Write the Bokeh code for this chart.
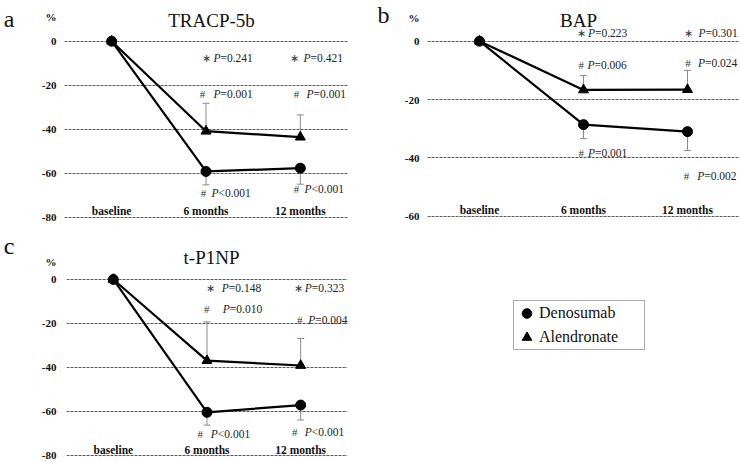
from bokeh.plotting import figure
from bokeh.models import (FactorRange, Range1d, FixedTicker, Label, Legend,
                          LegendItem, LinearAxis)
from bokeh.layouts import column, row
from bokeh.core.properties import value
from bokeh.embed import file_html
from bokeh.resources import INLINE

# ---------------- data ----------------
categories = ["baseline", "6 months", "12 months"]
followup = ["6 months", "12 months"]

# TRACP-5b (% change)
tracp_deno = [0, -59.2, -57.7]
tracp_alen = [0, -40.9, -43.6]
tracp_deno_err = [-65.3, -65.0]
tracp_alen_err = [-28.2, -33.5]
tracp_p_between = ["=0.241", "=0.421"]
tracp_p_alen = ["=0.001", "=0.001"]
tracp_p_deno = ["<0.001", "<0.001"]

# BAP (% change)
bap_deno = [0, -28.6, -31.0]
bap_alen = [0, -16.7, -16.6]
bap_deno_err = [-33.4, -37.5]
bap_alen_err = [-11.8, -10.0]
bap_p_between = ["=0.223", "=0.301"]
bap_p_alen = ["=0.006", "=0.024"]
bap_p_deno = ["=0.001", "=0.002"]

# t-P1NP (% change)
p1np_deno = [0, -60.4, -57.1]
p1np_alen = [0, -36.9, -39.1]
p1np_deno_err = [-66.2, -63.9]
p1np_alen_err = [-19.3, -26.8]
p1np_p_between = ["=0.148", "=0.323"]
p1np_p_alen = ["=0.010", "=0.004"]
p1np_p_deno = ["<0.001", "<0.001"]

ticks_a = [0, -20, -40, -60, -80]
ticks_b = [0, -20, -40, -60]
ticks_c = [0, -20, -40, -60, -80]

SERIF = "Liberation Serif"
GRAY = "#8a8a8a"
INK = "#111111"


def make_panel(w, h, ylo, yhi, bl, br, ticks, standoff, pct_tick,
               letter, letter_tick, letter_standoff,
               deno, alen, deno_err, alen_err,
               title, title_y, title_dx, cat_y):
    p = figure(width=w, height=h, x_range=FactorRange(*categories),
               y_range=Range1d(ylo, yhi), x_axis_location=None,
               toolbar_location=None, output_backend="svg",
               min_border_left=bl, min_border_right=br,
               min_border_top=0, min_border_bottom=0,
               outline_line_color=None, background_fill_color="white",
               border_fill_color="white")
    p.xgrid.visible = False
    p.ygrid.ticker = FixedTicker(ticks=ticks)
    p.ygrid.grid_line_color = "#5a5a5a"
    p.ygrid.grid_line_dash = "3 1"
    p.ygrid.grid_line_width = 1

    ax = p.yaxis[0]
    ax.ticker = FixedTicker(ticks=[pct_tick] + ticks)
    overrides = {t: str(t) for t in ticks}
    overrides[pct_tick] = "%"
    ax.major_label_overrides = overrides
    ax.axis_line_color = None
    ax.major_tick_line_color = None
    ax.minor_tick_line_color = None
    ax.major_tick_out = 0
    ax.major_tick_in = 0
    ax.major_label_standoff = standoff
    ax.major_label_text_font = SERIF
    ax.major_label_text_font_style = "bold"
    ax.major_label_text_font_size = "11px"
    ax.major_label_text_color = INK

    # panel letter as an outer axis label
    lax = LinearAxis(ticker=FixedTicker(ticks=[letter_tick]),
                     major_label_overrides={letter_tick: letter},
                     axis_line_color=None, major_tick_line_color=None,
                     minor_tick_line_color=None, major_tick_out=0,
                     major_tick_in=0, major_label_standoff=letter_standoff,
                     major_label_text_font=SERIF,
                     major_label_text_font_size="24px",
                     major_label_text_color=INK)
    p.add_layout(lax, "left")

    # error bars
    p.segment(x0=followup, y0=alen[1:], x1=followup, y1=alen_err,
              line_color=GRAY, line_width=1)
    p.segment(x0=followup, y0=deno[1:], x1=followup, y1=deno_err,
              line_color=GRAY, line_width=1)
    p.scatter(x=followup, y=alen_err, marker="dash", size=7,
              line_color=GRAY, line_width=1)
    p.scatter(x=followup, y=deno_err, marker="dash", size=7,
              line_color=GRAY, line_width=1)

    # series
    p.line(x=categories, y=alen, line_color="black", line_width=2.2)
    p.line(x=categories, y=deno, line_color="black", line_width=2.2)
    p.scatter(x=categories, y=alen, marker="triangle", size=10,
              fill_color="black", line_color="black")
    p.scatter(x=categories, y=deno, marker="circle", size=10,
              fill_color="black", line_color="black")

    # category labels
    p.text(x=categories, y=[cat_y] * 3, text=categories,
           text_font=value(SERIF), text_font_style="bold",
           text_font_size="11.5px", text_align="center",
           text_baseline="middle", text_color=INK)

    p.add_layout(Label(x=1.5, y=title_y, x_offset=title_dx, text=title,
                       text_font=SERIF, text_font_size="19px",
                       text_align="center", text_baseline="alphabetic",
                       text_color=INK))
    return p


def annotate(p, sym, texts, ys, sym_dx, p_dx):
    p.text(x=followup, y=ys, text=[sym] * len(followup), x_offset=sym_dx,
           text_font=value(SERIF), text_font_size="11px",
           text_align="center", text_baseline="middle", text_color="#333333")
    p.text(x=followup, y=ys, text=["P"] * len(followup), x_offset=p_dx,
           text_font=value(SERIF), text_font_size="11.5px",
           text_font_style="italic", text_align="left",
           text_baseline="middle", text_color="#222222")
    p.text(x=followup, y=ys, text=texts, x_offset=[d + 7 for d in p_dx],
           text_font=value(SERIF), text_font_size="11.5px",
           text_align="left", text_baseline="middle", text_color="#222222")


STAR = "\u2217"

# panel a  (0 at y=40.7px, 2.2 px per %)
pa = make_panel(370, 222, -82.4, 18.5, 58, 23, ticks_a, 8, 11,
                "a", 15, 24,
                tracp_deno, tracp_alen, tracp_deno_err, tracp_alen_err,
                "TRACP-5b", 9.4, 5.5, -77)
annotate(pa, STAR, tracp_p_between, [-7.5, -7.5], [0.5, -5.8], [7.5, 3.2])
annotate(pa, "#", tracp_p_alen, [-24.2, -24.2], [-3.5, -3.8], [7.5, 6.2])
annotate(pa, "#", tracp_p_deno, [-68.9, -67.4], [-2.5, -3.8], [5.5, 4.2])

# panel b  (0 at y=40.7px, 2.917 px per %)
pb = make_panel(370, 222, -62.15, 13.95, 57, 1, ticks_b, 8, 8,
                "b", 10, 12,
                bap_deno, bap_alen, bap_deno_err, bap_alen_err,
                "BAP", 7.1, -5, -57.7)
annotate(pb, STAR, bap_p_between, [2.9, 2.9], [-2.3, 0.5], [4.5, 11])
annotate(pb, "#", bap_p_alen, [-8.3, -7.5], [-2.3, 0.5], [4.0, 10.5])
annotate(pb, "#", bap_p_deno, [-38.3, -46.3], [-2.3, -1], [4.5, 9.7])

# panel c  (0 at y=279px, 2.2 px per %)
pc = make_panel(370, 240, -83.2, 25.9, 60, 23, ticks_c, 10, 8,
                "c", 15, 24,
                p1np_deno, p1np_alen, p1np_deno_err, p1np_alen_err,
                "t-P1NP", 10.0, 4.5, -77.4)
annotate(pc, STAR, p1np_p_between, [-3.8, -3.8], [3.8, -2.5], [14.8, 4.1])
annotate(pc, "#", p1np_p_alen, [-13.3, -18.3], [-0.2, -0.9], [15.8, 7.5])
annotate(pc, "#", p1np_p_deno, [-70.1, -69.4], [-6.8, -5.9], [3.8, 4.1])

# legend panel
pl = figure(width=370, height=240, x_range=FactorRange(*categories),
            y_range=Range1d(200, 300),
            x_axis_location=None, y_axis_location=None, toolbar_location=None,
            output_backend="svg", min_border=0, outline_line_color=None,
            background_fill_color="white", border_fill_color="white")
pl.xgrid.visible = False
pl.ygrid.visible = False
r_deno = pl.scatter(x=categories, y=p1np_deno, marker="circle", size=10,
                    fill_color="black", line_color="black", visible=False)
r_alen = pl.scatter(x=categories, y=p1np_alen, marker="triangle", size=10,
                    fill_color="black", line_color="black", visible=False)
legend = Legend(items=[LegendItem(label="Denosumab", renderers=[r_deno]),
                       LegendItem(label="Alendronate", renderers=[r_alen])],
                location=(143, 112), orientation="vertical",
                border_line_color="#555555", border_line_width=1,
                background_fill_color="white", background_fill_alpha=1,
                label_text_font=SERIF, label_text_font_size="16px",
                label_text_color=INK,
                padding=0, spacing=0, margin=0,
                glyph_width=25, glyph_height=24, label_height=24,
                label_standoff=0, label_width=105)
pl.add_layout(legend, "center")

layout = column(row(pa, pb), row(pc, pl))

open("out.html", "w").write(file_html(layout, INLINE))
